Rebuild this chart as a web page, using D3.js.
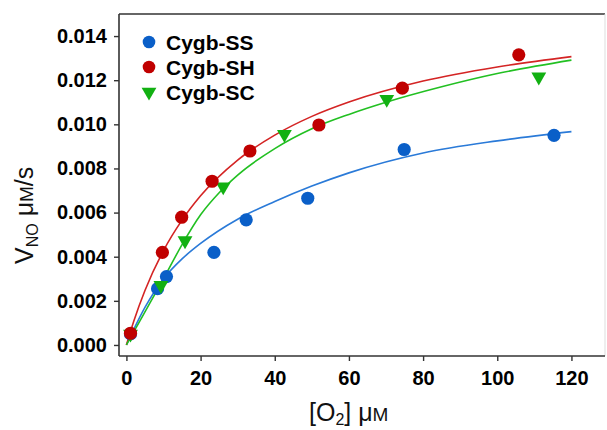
<!DOCTYPE html>
<html><head><meta charset="utf-8">
<script src="https://cdn.jsdelivr.net/npm/d3@7"></script>
<style>
html,body{margin:0;padding:0;background:#fff;}
svg{display:block;}
</style></head>
<body>
<svg id="chart" width="607" height="430"></svg>
<script>
// ---- data ----
const seriesNames = ["Cygb-SS", "Cygb-SH", "Cygb-SC"];
const ssPoints = [[1.1,0.0005],[8.4,0.00255],[10.8,0.0031],[23.6,0.0042],[32.3,0.00567],[48.9,0.00665],[74.9,0.00886],[115.3,0.0095]];
const shPoints = [[1.1,0.00053],[9.7,0.0042],[14.9,0.00579],[23.1,0.00742],[33.3,0.00879],[51.9,0.00997],[74.4,0.01164],[105.8,0.01315]];
const scPoints = [[1.1,0.0005],[9.3,0.0027],[15.8,0.00473],[26.1,0.00717],[42.6,0.00955],[70.2,0.01114],[111.2,0.01215]];
// fitted curves
const ssCurve = [[0,0],[5,0.0017],[10,0.003],[15,0.0039],[20,0.0046],[30,0.0057],[40,0.0065],[50,0.0072],[60,0.0078],[80,0.0087],[100,0.00925],[120,0.00967]];
const shCurve = [[0,0],[2,0.00109],[5,0.00247],[10,0.00428],[15,0.00566],[20,0.00676],[30,0.00838],[40,0.00951],[50,0.01036],[60,0.01101],[80,0.01196],[100,0.0126],[120,0.01307]];
const scCurve = [[0,0],[5,0.0015],[10,0.003],[15,0.00455],[20,0.0059],[25,0.0069],[30,0.0077],[40,0.0089],[50,0.0098],[60,0.01045],[70,0.011],[85,0.0117],[100,0.0123],[120,0.01291]];
const xTicks = [0,20,40,60,80,100,120];
const yTicks = [0,0.002,0.004,0.006,0.008,0.010,0.012,0.014];

const svg = d3.select("#chart");
const L = 119, R = 605, T = 14, B = 356;
const x = d3.scaleLinear().domain([-2, 129.05]).range([L, R]);
const y = d3.scaleLinear().domain([-0.0005, 0.015]).range([B, T]);

const markerColor = {"Cygb-SS":"#0a5fc8","Cygb-SH":"#c00000","Cygb-SC":"#12b012"};
const lineColor = {"Cygb-SS":"#2a7ad8","Cygb-SH":"#d42424","Cygb-SC":"#22c022"};

// frame top/right
svg.append("line").attr("x1",L).attr("x2",R).attr("y1",T).attr("y2",T).attr("stroke","#333").attr("stroke-width",1.6);
svg.append("line").attr("x1",R).attr("x2",R).attr("y1",T).attr("y2",B).attr("stroke","#ddd").attr("stroke-width",1);

const font = "'Liberation Sans', Arial, sans-serif";

// axes
const xAxis = svg.append("g").attr("transform",`translate(0,${B})`)
  .call(d3.axisBottom(x).tickValues(xTicks).tickSize(5).tickPadding(10).tickFormat(d3.format("d")));
const yAxis = svg.append("g").attr("transform",`translate(${L},0)`)
  .call(d3.axisLeft(y).tickValues(yTicks).tickSize(5).tickPadding(7).tickFormat(d3.format(".3f")));
[xAxis,yAxis].forEach(g=>{
  g.select(".domain").attr("stroke","#333").attr("stroke-width",1.6);
  g.selectAll(".tick line").attr("stroke","#333").attr("stroke-width",1.4);
  g.selectAll("text").attr("fill","#000").style("font-family",font).style("font-weight","bold").style("font-size","20px");
});
xAxis.select(".domain").attr("d",`M${L},0H${R}`);
yAxis.select(".domain").attr("d",`M0,${B}V${T}`);

// curves
const line = d3.line().x(d=>x(d[0])).y(d=>y(d[1])).curve(d3.curveMonotoneX);
const curves = [[ssCurve,"Cygb-SS"],[shCurve,"Cygb-SH"],[scCurve,"Cygb-SC"]];
curves.forEach(([c,n])=>{
  svg.append("path").datum(c).attr("d",line).attr("fill","none").attr("stroke",lineColor[n]).attr("stroke-width",1.6);
});

// points
const tri = d3.symbol().type(d3.symbolTriangle).size(95);
function drawCircles(pts,n){
  svg.append("g").selectAll("circle").data(pts).join("circle")
    .attr("cx",d=>x(d[0])).attr("cy",d=>y(d[1])).attr("r",6.6).attr("fill",markerColor[n]);
}
function drawTris(pts,n){
  svg.append("g").selectAll("path").data(pts).join("path")
    .attr("d",tri).attr("transform",d=>`translate(${x(d[0])},${y(d[1])}) rotate(180)`).attr("fill",markerColor[n]);
}
drawCircles(ssPoints,"Cygb-SS");
drawTris(scPoints,"Cygb-SC");
drawCircles(shPoints,"Cygb-SH");

// legend
const legY = [42, 67, 92];
seriesNames.forEach((n,i)=>{
  if(n==="Cygb-SC"){
    svg.append("path").attr("d",tri).attr("transform",`translate(149,${legY[i]}) rotate(180)`).attr("fill",markerColor[n]);
  } else {
    svg.append("circle").attr("cx",149).attr("cy",legY[i]).attr("r",6.3).attr("fill",markerColor[n]);
  }
  svg.append("text").attr("x",166).attr("y",legY[i]+7.5).text(n)
    .style("font-family",font).style("font-weight","bold").style("font-size","21px").attr("fill","#000");
});

// axis titles
const xt = svg.append("text").attr("x",309).attr("y",421)
  .style("font-family",font).style("font-size","25px").attr("fill","#111");
xt.append("tspan").text("[O");
xt.append("tspan").attr("dy",4).style("font-size","16px").text("2");
xt.append("tspan").attr("dy",-4).text("] \u03bc");
xt.append("tspan").style("font-size","19px").text("M");

const yt = svg.append("text").attr("transform","translate(33,264) rotate(-90)")
  .style("font-family",font).style("font-size","25px").attr("fill","#111");
yt.append("tspan").text("V");
yt.append("tspan").attr("dy",5).style("font-size","16px").text("NO");
yt.append("tspan").attr("dy",-5).text(" \u03bc");
yt.append("tspan").style("font-size","19px").text("M");
yt.append("tspan").text("/s");
</script>
</body></html>
